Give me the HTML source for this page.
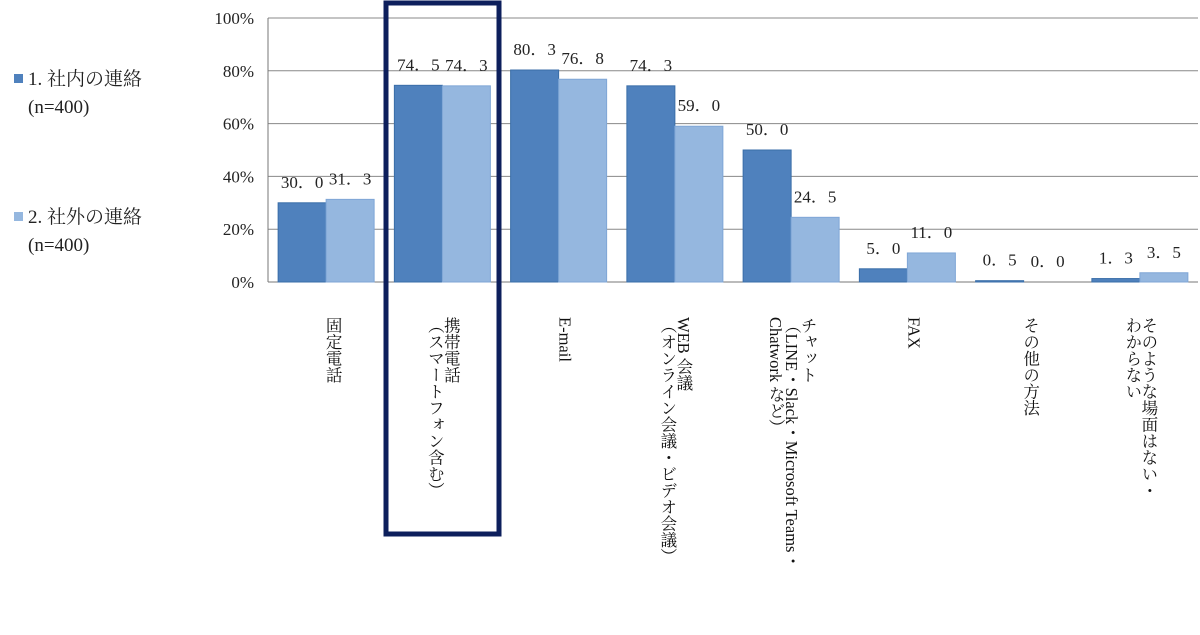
<!DOCTYPE html>
<html><head><meta charset="utf-8"><style>
body{margin:0;width:1200px;height:635px;background:#fff;overflow:hidden;position:relative;font-family:"Liberation Serif","Noto Serif CJK SC",serif;}
.leg{position:absolute;font-size:19px;color:#222;line-height:28px;}
.sw{position:absolute;width:9px;height:9px;}
.cat{position:absolute;top:317px;writing-mode:vertical-rl;font-size:16.5px;line-height:16px;color:#111;white-space:nowrap;}
</style></head><body>
<div class="sw" style="left:14px;top:74px;background:#4f81bd"></div>
<div class="leg" style="left:28px;top:66px">1. 社内の連絡<br>(n=400)</div>
<div class="sw" style="left:14px;top:212px;background:#95b7df"></div>
<div class="leg" style="left:28px;top:204px">2. 社外の連絡<br>(n=400)</div>
<svg id="chart" width="1200" height="635" style="position:absolute;left:0;top:0"></svg>
<div id="cats"></div>
<script>
const categories=[["固定電話"],["携帯電話","（スマートフォン含む）"],["E-mail"],["WEB 会議","（オンライン会議・ビデオ会議）"],["チャット","（LINE・Slack・Microsoft Teams・","Chatwork など）"],["FAX"],["その他の方法"],["そのような場面はない・","わからない"]];
const internalValues=[30.0,74.5,80.3,74.3,50.0,5.0,0.5,1.3];
const externalValues=[31.3,74.3,76.8,59.0,24.5,11.0,0.0,3.5];
const yTicks=[0,20,40,60,80,100];
const NS="http://www.w3.org/2000/svg";
const svg=document.getElementById('chart');
const plotLeft=268,plotRight=1198,plotTop=18,plotBottom=282;
const gw=(plotRight-plotLeft)/categories.length;
const yScale=v=>plotBottom-(plotBottom-plotTop)*v/100;
const gx=i=>plotLeft+gw*i;
function mk(t,a){const e=document.createElementNS(NS,t);for(const k in a)e.setAttribute(k,a[k]);svg.appendChild(e);return e;}
yTicks.forEach(t=>{
 const l=mk('line',{x1:plotLeft,x2:plotRight,y1:yScale(t),y2:yScale(t),stroke:t===0?'#777':'#888','stroke-width':1});
 
 
 const tx=mk('text',{x:plotLeft-14,y:yScale(t)+6,'text-anchor':'end','font-size':17,fill:'#222','font-family':'Liberation Serif, serif'});
 tx.textContent=t+'%';
 
 
});
const al=mk('line',{x1:plotLeft,x2:plotLeft,y1:plotTop,y2:plotBottom,stroke:'#777'});


const bw=48;
[[internalValues,'#4f81bd','#3a6ea8','internal'],[externalValues,'#95b7df','#7fa6d6','external']].forEach(([vals,c,sc,nm],s)=>{
 vals.forEach((v,i)=>{
  const x=gx(i)+gw/2-bw+s*bw;
  const r=mk('rect',{x:x,y:yScale(v),width:bw,height:plotBottom-yScale(v),fill:c,stroke:sc,'stroke-width':1});
  
  
  const t=mk('text',{x:x+bw/2,y:yScale(v)-15,'text-anchor':'middle','font-size':17,fill:'#222','font-family':'Liberation Serif, Noto Serif CJK SC, serif'});
  t.textContent=v.toFixed(1).replace('.','．');
  
  
 });
});
const box=mk('rect',{x:386,y:3,width:113,height:531,fill:'none',stroke:'#0d1f5c','stroke-width':5});


const cd=document.getElementById('cats');
categories.forEach((lines,i)=>{
 const d=document.createElement('div');
 d.className='cat';
 
 
 d.innerHTML=lines.join('<br>');
 const w=lines.length*16;
 d.style.left=(gx(i)+gw/2-w/2+(lines.length===1?6:0))+'px';
 cd.appendChild(d);
});
</script>
</body></html>
